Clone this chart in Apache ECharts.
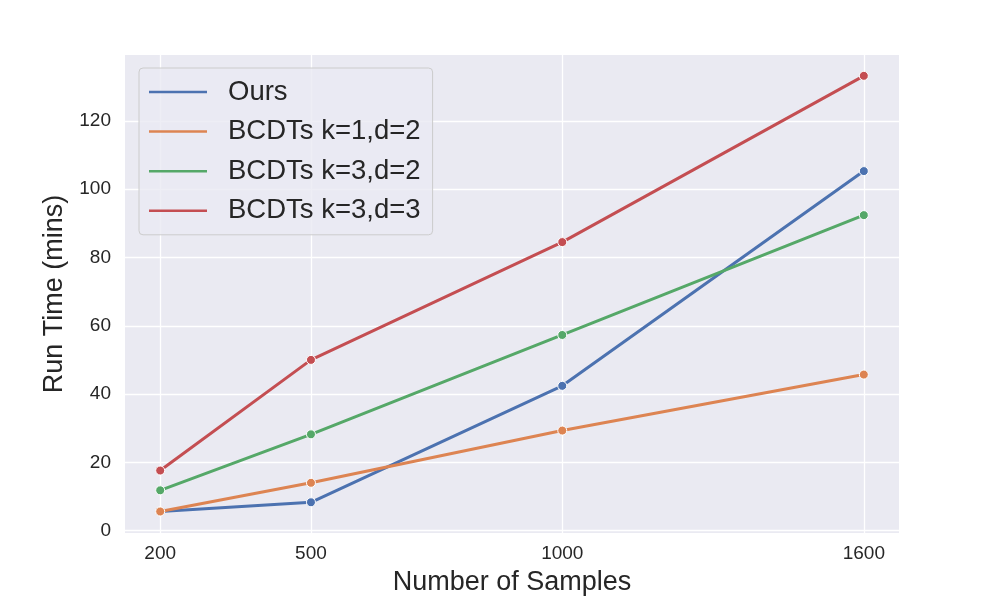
<!DOCTYPE html>
<html>
<head>
<meta charset="utf-8">
<script src="https://cdn.jsdelivr.net/npm/echarts@6/dist/echarts.min.js"></script>
<style>html,body{margin:0;padding:0;background:#fff;}#c{width:1000px;height:600px;}</style>
</head>
<body>
<div id="c"></div>
<script>
const samples = [200, 500, 1000, 1600];
const seriesNames = ['Ours', 'BCDTs k=1,d=2', 'BCDTs k=3,d=2', 'BCDTs k=3,d=3'];
const ours = [5.6, 8.3, 42.4, 105.3];
const k1d2 = [5.6, 14.0, 29.3, 45.7];
const k3d2 = [11.8, 28.2, 57.3, 92.4];
const k3d3 = [17.6, 50.0, 84.5, 133.2];
const xTicks = [200, 500, 1000, 1600];
const yTicks = [0, 20, 40, 60, 80, 100, 120];
const colors = ['#4c72b0', '#dd8452', '#55a868', '#c44e52'];

const font = 'Liberation Sans, Arial, sans-serif';
const allValues = [ours, k1d2, k3d2, k3d3];

const chart = echarts.init(document.getElementById('c'), null, {renderer: 'canvas'});
chart.setOption({
  animation: false,
  color: colors,
  grid: {left: 125, right: 101, top: 55, bottom: 67, show: true, backgroundColor: '#eaeaf2', borderWidth: 0, containLabel: false, outerBoundsMode: 'none'},
  legend: {
    orient: 'vertical', left: 139, top: 68,
    padding: [9, 12, 9, 10],
    backgroundColor: 'rgba(234,234,242,0.8)', borderColor: '#cccccc', borderWidth: 1, borderRadius: 4,
    icon: 'rect', itemWidth: 58, itemHeight: 2.5, itemGap: 9.6,
    itemStyle: {borderWidth: 0},
    textStyle: {fontFamily: font, fontSize: 27.5, color: '#262626', lineHeight: 30, padding: [0, 0, 0, 16]},
    data: seriesNames
  },
  xAxis: {
    type: 'value', min: 130, max: 1670,
    name: 'Number of Samples', nameLocation: 'middle', nameGap: 36,
    nameTextStyle: {fontFamily: font, fontSize: 27, color: '#262626'},
    axisLine: {show: false}, axisTick: {show: false, customValues: xTicks},
    axisLabel: {customValues: xTicks, formatter: v => String(v), fontFamily: font, fontSize: 19, color: '#262626', margin: 11},
    splitLine: {show: true, customValues: xTicks, lineStyle: {color: '#ffffff', width: 1.3}}
  },
  yAxis: {
    type: 'value', min: -0.7, max: 139.3,
    name: 'Run Time (mins)', nameLocation: 'middle', nameGap: 55, nameRotate: 90,
    nameTextStyle: {fontFamily: font, fontSize: 27, color: '#262626'},
    axisLine: {show: false}, axisTick: {show: false, customValues: yTicks},
    axisLabel: {customValues: yTicks, formatter: v => String(v), fontFamily: font, fontSize: 19, color: '#262626', margin: 14},
    splitLine: {show: true, customValues: yTicks, lineStyle: {color: '#ffffff', width: 1.3}}
  },
  series: seriesNames.map((n, i) => ({
    name: n, type: 'line',
    data: samples.map((x, j) => [x, allValues[i][j]]),
    symbol: 'circle', symbolSize: 9,
    lineStyle: {width: 3, color: colors[i]},
    itemStyle: {color: colors[i], borderColor: '#ffffff', borderWidth: 1},
    z: 2 + i
  }))
});
</script>
</body>
</html>
